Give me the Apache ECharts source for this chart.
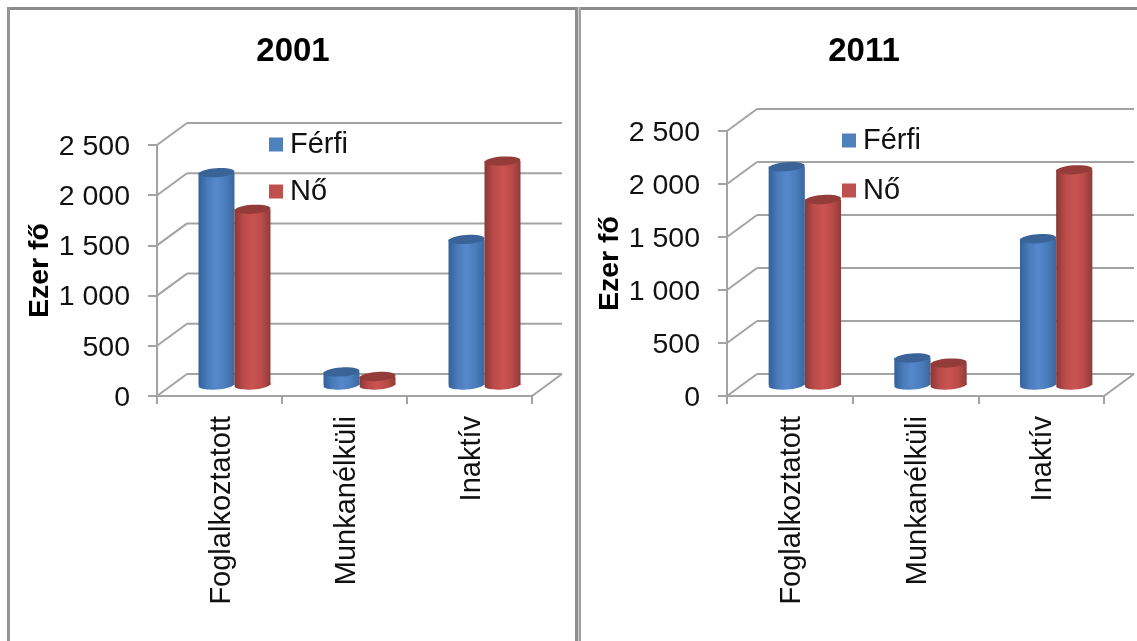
<!DOCTYPE html>
<html>
<head>
    <meta charset="utf-8">
    <script src="https://cdn.jsdelivr.net/npm/echarts@6/dist/echarts.min.js"></script>
    <style>
        html, body { margin: 0; padding: 0; background: #fff; }
        #main { width: 1137px; height: 641px; }
    </style>
</head>

<body>
    <div id="main"></div>

    <script type="text/javascript">
        var categories = ['Foglalkoztatott', 'Munkanélküli', 'Inaktív'];
        var seriesNames = ['Férfi', 'Nő'];
        var yTicks = [0, 500, 1000, 1500, 2000, 2500];
        var yTickLabels = ['0', '500', '1 000', '1 500', '2 000', '2 500'];
        var yAxisName = 'Ezer fő';

        var title2001 = '2001';
        var male2001 = [2115, 130, 1450];
        var female2001 = [1750, 85, 2230];

        var title2011 = '2011';
        var male2011 = [2060, 255, 1380];
        var female2011 = [1750, 207, 2030];

        var FONT = 'Liberation Sans';
        var LINE = '#a3a3a3';
        var DEPTH_X = 30, DEPTH_Y = 22;

        var blue = { top: '#3a6497', stops: ['#33619a', '#4a7cba', '#5688cc', '#4a7dbb', '#3a689f'], icon: '#4f81bd' };
        var red = { top: '#943c3a', stops: ['#8a3836', '#bb4b49', '#ca5350', '#bc4b49', '#8f3c3a'], icon: '#c0504d' };

        function bodyGradient(c) {
            return {
                type: 'linear', x: 0, y: 0, x2: 1, y2: 0,
                colorStops: c.stops.map(function (s, i) { return { offset: i / (c.stops.length - 1), color: s }; })
            };
        }

        // floor, back wall and side wall, all following the value axis
        function renderWalls(params, api) {
            var box = params.coordSys;
            var y = api.coord([0, api.value(1)])[1];
            var x0 = box.x, x1 = box.x + box.width;
            var style = { stroke: LINE, lineWidth: 2, fill: null };
            var children = [
                { type: 'line', shape: { x1: x0, y1: y, x2: x0 + DEPTH_X, y2: y - DEPTH_Y }, style: style },
                { type: 'line', shape: { x1: x0 + DEPTH_X, y1: y - DEPTH_Y, x2: x1 + DEPTH_X, y2: y - DEPTH_Y }, style: style }
            ];
            if (api.value(1) === 0) {
                children.push({ type: 'line', shape: { x1: x1, y1: y, x2: x1 + DEPTH_X, y2: y - DEPTH_Y }, style: style });
            }
            return { type: 'group', children: children };
        }

        function cylinder(side, c) {
            return function (params, api) {
                var idx = api.value(0);
                var base = api.coord([idx, 0]);
                var top = api.coord([idx, api.value(1)]);
                var w = api.size([1, 0])[0] * 0.288;
                var cx = base[0] + DEPTH_X / 2 + side * w / 2;
                var by = base[1] - DEPTH_Y / 2;
                var ty = top[1] - DEPTH_Y / 2;
                var rx = w / 2, ry = 4.5;
                var grad = bodyGradient(c);
                var tilt = 0.07;
                return {
                    type: 'group',
                    children: [
                        { type: 'ellipse', shape: { cx: 0, cy: 0, rx: rx, ry: ry }, x: cx, y: by, rotation: tilt, style: { fill: grad } },
                        { type: 'rect', shape: { x: cx - rx, y: ty, width: w, height: by - ty }, style: { fill: grad } },
                        { type: 'ellipse', shape: { cx: 0, cy: 0, rx: rx, ry: ry }, x: cx, y: ty, rotation: tilt, style: { fill: c.top } }
                    ]
                };
            };
        }

        function pairs(values) {
            return values.map(function (v, i) { return [i, v]; });
        }

        function panelGrid(left, width, top, height) {
            return { left: left, top: top, width: width, height: height };
        }

        function xAxis(gridIndex) {
            return {
                type: 'category', gridIndex: gridIndex, data: categories,
                axisLine: { lineStyle: { color: LINE, width: 2 } },
                axisTick: { show: true, length: 8, lineStyle: { color: LINE, width: 2 } },
                axisLabel: {
                    interval: 0, rotate: 90, margin: 20,
                    fontFamily: FONT, fontSize: 29, color: '#111',
                    // top + small lineHeight nudges the text 2px off the tick centre
                    verticalAlign: 'top', lineHeight: 4
                }
            };
        }

        function yAxis(gridIndex) {
            return {
                type: 'value', gridIndex: gridIndex, min: 0, max: 2500, interval: 500,
                name: yAxisName, nameLocation: 'middle', nameGap: 102, nameRotate: 90,
                nameTextStyle: { fontFamily: FONT, fontSize: 28.5, fontWeight: 'bold', color: '#000' },
                axisLine: { show: true, lineStyle: { color: LINE, width: 2 } },
                axisTick: { show: true, length: 9, lineStyle: { color: LINE, width: 2 } },
                splitLine: { show: false },
                axisLabel: {
                    margin: 27, fontFamily: FONT, fontSize: 28.5, color: '#111',
                    verticalAlign: 'top', lineHeight: 4,
                    formatter: function (v) { return yTickLabels[yTicks.indexOf(v)]; }
                }
            };
        }

        function panelSeries(gridIndex, male, female) {
            return [
                {
                    type: 'custom', xAxisIndex: gridIndex, yAxisIndex: gridIndex, silent: true, z: 1,
                    data: pairs(yTicks).map(function (d) { return [0, d[1]]; }), renderItem: renderWalls
                },
                {
                    name: seriesNames[0], type: 'custom', xAxisIndex: gridIndex, yAxisIndex: gridIndex, z: 3,
                    itemStyle: { color: blue.icon }, data: pairs(male), renderItem: cylinder(-1, blue)
                },
                {
                    name: seriesNames[1], type: 'custom', xAxisIndex: gridIndex, yAxisIndex: gridIndex, z: 4,
                    itemStyle: { color: red.icon }, data: pairs(female), renderItem: cylinder(1, red)
                }
            ];
        }

        function legend(left, top, gap) {
            return {
                data: seriesNames, orient: 'vertical', left: left, top: top, padding: 0,
                itemWidth: 14, itemHeight: 14, itemGap: gap, icon: 'rect', selectedMode: false,
                textStyle: { fontFamily: FONT, fontSize: 29, color: '#111', padding: [0, 0, 0, 2] }
            };
        }

        function title(text, x) {
            return {
                text: text, left: x, top: 35, padding: 0, textAlign: 'center',
                textStyle: { fontFamily: FONT, fontSize: 33, fontWeight: 'bold', color: '#000' }
            };
        }

        function frameRect(x, y, w, h, color) {
            return { type: 'rect', silent: true, shape: { x: x, y: y, width: w, height: h }, style: { fill: color } };
        }

        var myChart = echarts.init(document.getElementById('main'), null, { renderer: 'canvas' });
        myChart.setOption({
            animation: false,
            backgroundColor: '#fff',
            title: [title(title2001, 293), title(title2011, 864)],
            legend: [legend(269, 130, 18), legend(842, 126, 21)],
            tooltip: { show: false },
            grid: [panelGrid(157, 375, 145, 251), panelGrid(727, 377, 131, 265)],
            xAxis: [xAxis(0), xAxis(1)],
            yAxis: [yAxis(0), yAxis(1)],
            series: panelSeries(0, male2001, female2001).concat(panelSeries(1, male2011, female2011)),
            graphic: [
                frameRect(7, 7, 1130, 3, '#8c8c8c'),
                frameRect(7, 7, 3, 634, '#969696'),
                frameRect(575, 7, 3, 634, '#8f8f8f'),
                frameRect(578, 7, 1, 634, '#cfcfcf'),
                frameRect(579, 7, 2, 634, '#a0a0a0')
            ]
        });
    </script>
</body>

</html>
